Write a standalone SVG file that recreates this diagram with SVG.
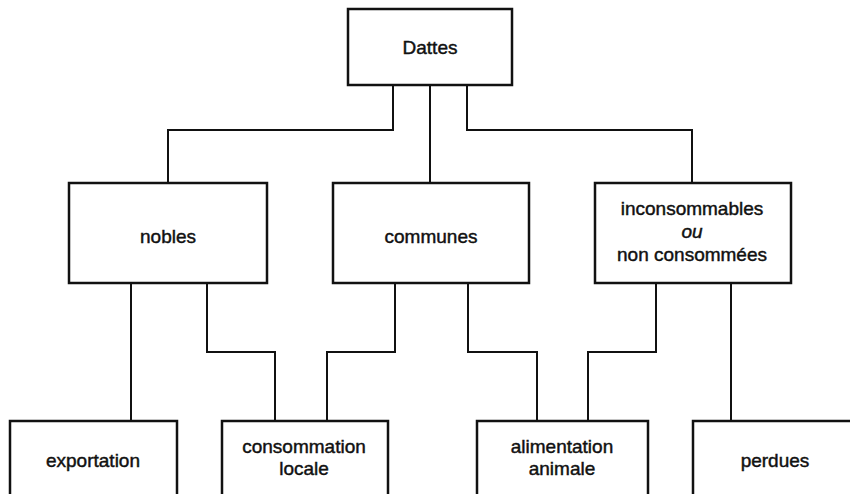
<svg xmlns="http://www.w3.org/2000/svg" width="850" height="494" viewBox="0 0 850 494">
<style>
.box{fill:#fff;stroke:#111;stroke-width:2.5}
.lbl{font-family:"Liberation Sans",Arial,sans-serif;font-size:19px;fill:#111;stroke:#111;stroke-width:0.45;text-anchor:middle}
.con{fill:none;stroke:#111;stroke-width:2}
</style>
<rect width="850" height="494" fill="#fff"/>
<g id="connectors">
<polyline class="con" points="393,85 393,130 168,130 168,183"/>
<polyline class="con" points="430,85 430,183"/>
<polyline class="con" points="467,85 467,130 692,130 692,183"/>
<polyline class="con" points="131,283 131,421"/>
<polyline class="con" points="207,283 207,352 275,352 275,421"/>
<polyline class="con" points="395,283 395,352 327,352 327,421"/>
<polyline class="con" points="468,283 468,352 537,352 537,421"/>
<polyline class="con" points="656,283 656,352 588,352 588,421"/>
<polyline class="con" points="731,283 731,421"/>
</g>
<g id="dattes">
<rect class="box" x="348" y="9" width="164" height="76"/>
<text class="lbl" x="430" y="54">Dattes</text>
</g>
<g id="nobles">
<rect class="box" x="69" y="183" width="198" height="100"/>
<text class="lbl" x="168" y="243">nobles</text>
</g>
<g id="communes">
<rect class="box" x="333" y="183" width="196" height="100"/>
<text class="lbl" x="431" y="243">communes</text>
</g>
<g id="inconsommables">
<rect class="box" x="595" y="183" width="196" height="100"/>
<text class="lbl" x="692" y="215">inconsommables</text>
<text class="lbl" x="692" y="238" font-style="italic">ou</text>
<text class="lbl" x="692" y="261">non consommées</text>
</g>
<g id="exportation">
<rect class="box" x="10" y="421" width="167" height="80"/>
<text class="lbl" x="93" y="467">exportation</text>
</g>
<g id="consommation">
<rect class="box" x="222" y="421" width="166" height="80"/>
<text class="lbl" x="304" y="453">consommation</text>
<text class="lbl" x="304" y="475">locale</text>
</g>
<g id="alimentation">
<rect class="box" x="477" y="421" width="171" height="80"/>
<text class="lbl" x="562" y="453">alimentation</text>
<text class="lbl" x="562" y="475">animale</text>
</g>
<g id="perdues">
<rect class="box" x="693" y="421" width="170" height="80"/>
<text class="lbl" x="775" y="467">perdues</text>
</g>
</svg>
